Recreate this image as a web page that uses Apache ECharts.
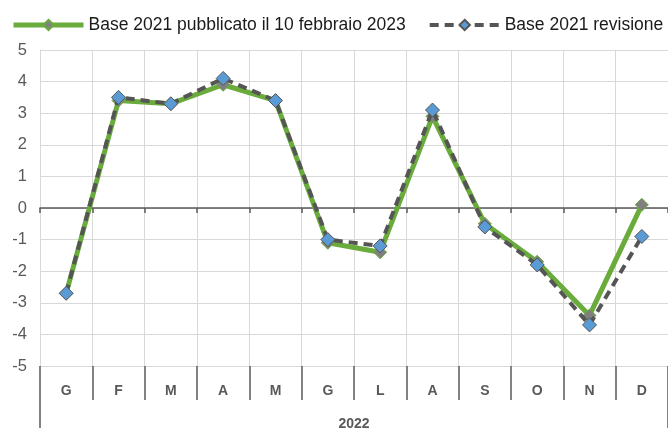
<!DOCTYPE html>
<html>
<head>
<meta charset="utf-8">
<script src="https://cdn.jsdelivr.net/npm/echarts@6/dist/echarts.min.js"></script>
<style>
html,body{margin:0;padding:0;background:#fff;}
#chart{width:668px;height:428px;}
</style>
</head>
<body>
<div id="chart"></div>
<script>
/*
* Dati
*/
var mesi=['G','F','M','A','M','G','L','A','S','O','N','D'];
var anno=['2022'];
var pubblicato=[-2.7,3.4,3.3,3.9,3.4,-1.1,-1.4,2.9,-0.5,-1.7,-3.4,0.1];
var revisione=[-2.7,3.5,3.3,4.1,3.4,-1.0,-1.2,3.1,-0.6,-1.8,-3.7,-0.9];
var nomePubblicato='Base 2021 pubblicato il 10 febbraio 2023';
var nomeRevisione='Base 2021 revisione';

var font='"Liberation Sans", Arial, sans-serif';

var option={
	backgroundColor:'#fff',
	animation:false,
	legend:{
		top:11,
		left:6,
		itemWidth:70,
		itemHeight:13,
		itemGap:22,
		textStyle:{fontFamily:font,fontSize:17.5,color:'#1a1a1a'},
		data:[
			{name:nomePubblicato,lineStyle:{width:5}},
			{name:nomeRevisione,lineStyle:{width:4}}
		]
	},
	grid:{left:40,right:0,top:50,bottom:62,containLabel:false,outerBoundsMode:'none'},
	xAxis:[{
		// etichette mesi
		type:'category',
		data:mesi,
		position:'bottom',
		boundaryGap:true,
		axisLine:{show:true,onZero:false,lineStyle:{color:'#d9d9d9',width:1}},
		axisTick:{show:true,length:34,lineStyle:{color:'#595959',width:1.5}},
		axisLabel:{margin:18,fontFamily:font,fontSize:14,fontWeight:'bold',color:'#595959'},
		splitLine:{show:true,lineStyle:{color:'#d9d9d9',width:1}}
	},{
		// asse sullo zero
		type:'category',
		data:mesi,
		position:'bottom',
		boundaryGap:true,
		axisLine:{show:true,onZero:true,lineStyle:{color:'#595959',width:1.5}},
		axisTick:{show:true,length:5,lineStyle:{color:'#595959',width:1.5}},
		axisLabel:{show:false},
		splitLine:{show:false}
	},{
		// anno
		type:'category',
		data:anno,
		position:'bottom',
		boundaryGap:true,
		axisLine:{show:false,onZero:false},
		axisTick:{show:true,length:62,lineStyle:{color:'#595959',width:1.5}},
		axisLabel:{margin:51,fontFamily:font,fontSize:14,fontWeight:'bold',color:'#595959'},
		splitLine:{show:false}
	}],
	yAxis:{
		type:'value',
		min:-5,
		max:5,
		interval:1,
		axisLine:{show:true,lineStyle:{color:'#d9d9d9'}},
		axisTick:{show:false},
		axisLabel:{margin:13,fontFamily:font,fontSize:16.5,color:'#595959'},
		splitLine:{show:true,lineStyle:{color:'#d9d9d9',width:1}}
	},
	series:[{
		name:nomePubblicato,
		type:'line',
		xAxisIndex:0,
		data:pubblicato,
		symbol:'diamond',
		symbolSize:13,
		lineStyle:{color:'#6aac3c',width:5},
		itemStyle:{color:'#808080',borderColor:'#6aac3c',borderWidth:1},
		color:'#6aac3c',
		z:2
	},{
		name:nomeRevisione,
		type:'line',
		xAxisIndex:0,
		data:revisione,
		symbol:'diamond',
		symbolSize:14,
		lineStyle:{color:'#555555',width:4,type:[9,6]},
		itemStyle:{color:'#5b9bd5',borderColor:'#555555',borderWidth:1},
		color:'#555555',
		z:3
	}]
};

var myChart=echarts.init(document.getElementById('chart'));
myChart.setOption(option);
</script>
</body>
</html>
